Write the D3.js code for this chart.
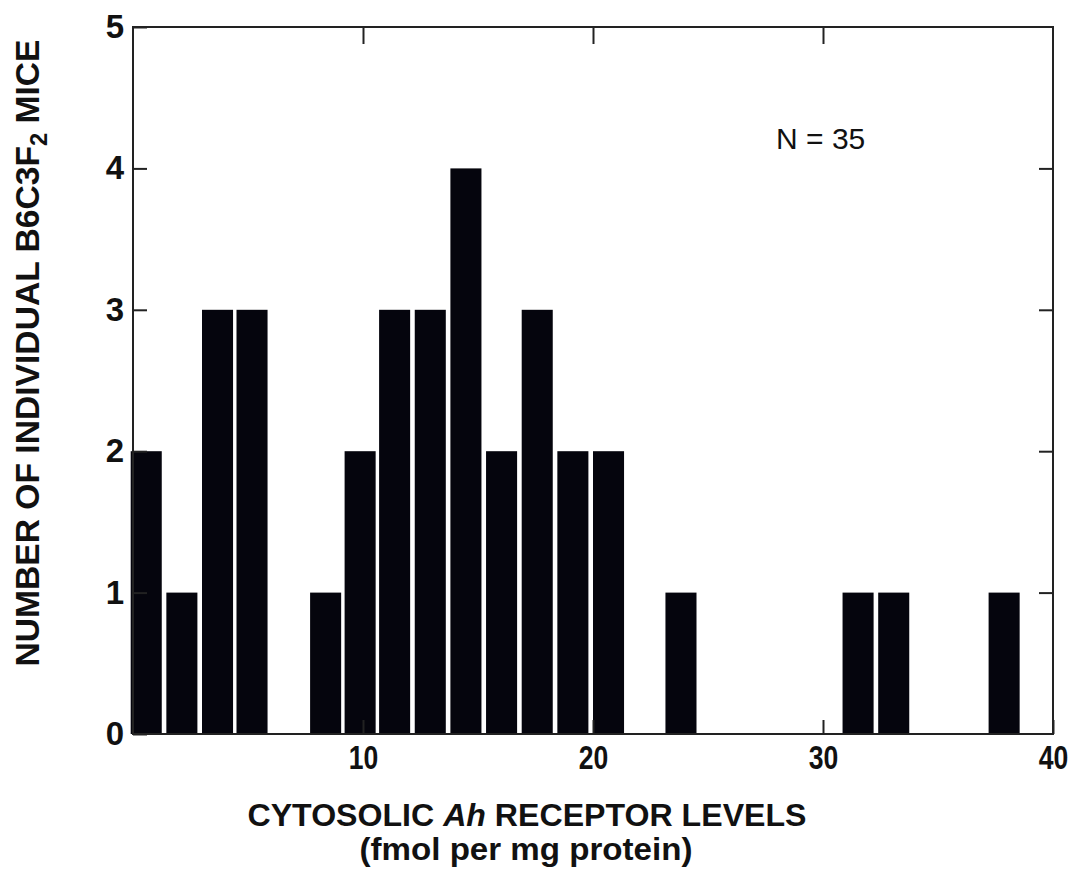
<!DOCTYPE html>
<html>
<head>
<meta charset="utf-8">
<title>Ah receptor histogram</title>
<style>
  body { margin: 0; background: #fff; }
  svg text { fill: #111; }
  .tick line { stroke: #222; stroke-width: 2; }
</style>
<script src="https://d3js.org/d3.v7.min.js"></script>
</head>
<body>
<svg id="chart" width="1073" height="869"></svg>
<script>
// left edge of each bin (fmol per mg protein) and number of mice
var binStart = [-0.1, 1.45, 3.0, 4.5, 7.7, 9.2, 10.7, 12.25, 13.8, 15.35, 16.9, 18.45, 20.0, 23.15, 30.85, 32.4, 37.2];
var counts   = [2, 1, 3, 3, 1, 2, 3, 3, 4, 2, 3, 2, 2, 1, 1, 1, 1];
var binWidth = 1.35;
var yTicks = [0, 1, 2, 3, 4, 5];
var xTicks = [10, 20, 30, 40];
var nLabel = "N = 35";

var svg = d3.select("#chart");
var pLeft = 133, pRight = 1053, pTop = 27, pBottom = 734;

var x = d3.scaleLinear().domain([0, 40]).range([pLeft, pRight]);
var y = d3.scaleLinear().domain([0, 5]).range([pBottom, pTop]);

// bars
svg.append("g").selectAll("rect")
  .data(binStart)
  .enter().append("rect")
  .attr("x", function(d) { return x(d); })
  .attr("width", function(d) { return x(d + binWidth) - x(d); })
  .attr("y", function(d, i) { return y(counts[i]); })
  .attr("height", function(d, i) { return y(0) - y(counts[i]); })
  .attr("fill", "#05050d");

// frame
svg.append("rect")
  .attr("x", pLeft).attr("y", pTop)
  .attr("width", pRight - pLeft).attr("height", pBottom - pTop)
  .attr("fill", "none").attr("stroke", "#222").attr("stroke-width", 2);

var yLeft = svg.append("g")
  .attr("transform", "translate(" + pLeft + ",0)")
  .call(d3.axisLeft(y).tickValues(yTicks).tickSizeInner(-14).tickSizeOuter(0).tickPadding(9).tickFormat(d3.format("d")));
yLeft.select(".domain").remove();
yLeft.selectAll("text")
  .attr("font-family", "Liberation Sans, Arial, sans-serif")
  .attr("font-weight", "bold").attr("font-size", 33);

var yRight = svg.append("g")
  .attr("transform", "translate(" + pRight + ",0)")
  .call(d3.axisRight(y).tickValues([1, 2, 3, 4]).tickSizeInner(-14).tickSizeOuter(0).tickFormat(""));
yRight.select(".domain").remove();

var xBottom = svg.append("g")
  .attr("transform", "translate(0," + pBottom + ")")
  .call(d3.axisBottom(x).tickValues(xTicks).tickSizeInner(-14).tickSizeOuter(0).tickPadding(11).tickFormat(d3.format("d")));
xBottom.select(".domain").remove();
xBottom.selectAll("text")
  .attr("font-family", "Liberation Sans, Arial, sans-serif")
  .attr("font-weight", "bold").attr("font-size", 34)
  .attr("transform", "scale(0.78,1)");

var xTop = svg.append("g")
  .attr("transform", "translate(0," + pTop + ")")
  .call(d3.axisTop(x).tickValues([10, 20, 30]).tickSizeInner(-17).tickSizeOuter(0).tickFormat(""));
xTop.select(".domain").remove();

// N label
svg.append("text")
  .attr("x", x(29.9)).attr("y", y(4.14))
  .attr("text-anchor", "middle")
  .attr("font-family", "Liberation Sans, Arial, sans-serif")
  .attr("font-size", 30)
  .text(nLabel);

// axis titles
var t1 = svg.append("text")
  .attr("x", 527).attr("y", 826)
  .attr("text-anchor", "middle")
  .attr("font-family", "Liberation Sans, Arial, sans-serif")
  .attr("font-weight", "bold")
  .attr("font-size", 32)
  .attr("textLength", 559).attr("lengthAdjust", "spacingAndGlyphs");
t1.append("tspan").text("CYTOSOLIC ");
t1.append("tspan").attr("font-style", "italic").text("Ah");
t1.append("tspan").text(" RECEPTOR LEVELS");

svg.append("text")
  .attr("x", 526).attr("y", 860)
  .attr("text-anchor", "middle")
  .attr("font-family", "Liberation Sans, Arial, sans-serif")
  .attr("font-weight", "bold")
  .attr("font-size", 32)
  .attr("textLength", 333).attr("lengthAdjust", "spacingAndGlyphs")
  .text("(fmol per mg protein)");

var yt = svg.append("text")
  .attr("transform", "translate(39,353) rotate(-90)")
  .attr("text-anchor", "middle")
  .attr("font-family", "Liberation Sans, Arial, sans-serif")
  .attr("font-weight", "bold")
  .attr("font-size", 34)
  .attr("textLength", 627).attr("lengthAdjust", "spacingAndGlyphs");
yt.append("tspan").text("NUMBER OF INDIVIDUAL B6C3F");
yt.append("tspan").attr("font-size", 24).attr("dy", 8).text("2");
yt.append("tspan").attr("dy", -8).text(" MICE");
</script>
</body>
</html>
